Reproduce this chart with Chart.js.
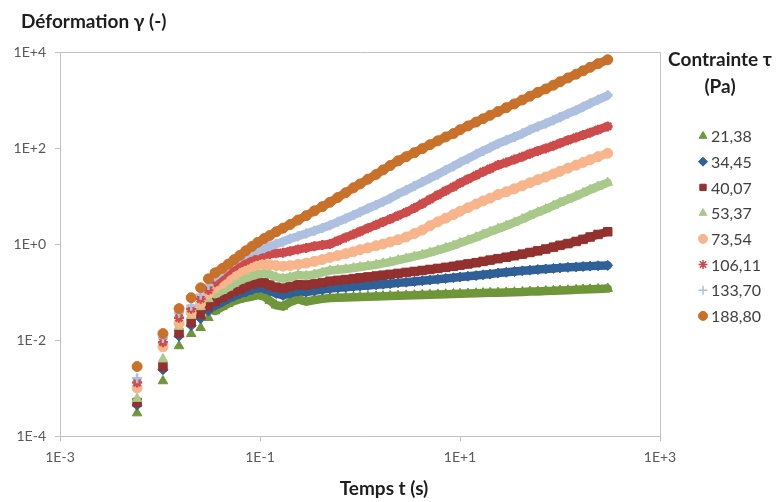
<!DOCTYPE html>
<html lang="fr">
<head>
<meta charset="UTF-8">
<title>Déformation en fonction du temps</title>
<script src="https://cdn.jsdelivr.net/npm/chart.js"></script>
<style>
  html, body { margin: 0; padding: 0; background: #fff; }
  #wrap { position: relative; width: 778px; height: 502px; }
</style>
</head>
<body>
<div id="wrap"><canvas id="chart"></canvas></div>
<script>
// temps t (s)
const temps = [0.0059, 0.0107, 0.0155, 0.0205, 0.0255, 0.0305, 0.0355, 0.042, 0.048, 0.055,
  0.063, 0.072, 0.083, 0.095, 0.11, 0.125, 0.145, 0.17, 0.2, 0.24,
  0.29, 0.35, 0.42, 0.5, 0.6, 0.72, 0.86, 1, 1.2, 1.45,
  1.7, 2, 2.4, 2.9, 3.5, 4.2, 5, 6, 7.2, 8.6,
  10, 12, 14.5, 17, 20, 24, 29, 35, 42, 50,
  60, 72, 86, 100, 120, 145, 170, 200, 240, 300];

// contrainte tau (Pa)
const contraintes = ['21,38', '34,45', '40,07', '53,37', '73,54', '106,11', '133,70', '188,80'];

// deformation gamma (-) pour chaque contrainte
const def2138 = [0.0003, 0.0014, 0.0075, 0.0135, 0.018, 0.029, 0.040, 0.049, 0.057, 0.065,
  0.071, 0.076, 0.080, 0.087, 0.080, 0.066, 0.053, 0.050, 0.062, 0.071,
  0.063, 0.068, 0.072, 0.075, 0.076, 0.077, 0.078, 0.079, 0.080, 0.081,
  0.082, 0.083, 0.084, 0.085, 0.086, 0.087, 0.088, 0.089, 0.090, 0.091,
  0.092, 0.093, 0.094, 0.095, 0.096, 0.097, 0.098, 0.099, 0.100, 0.102,
  0.103, 0.105, 0.106, 0.108, 0.109, 0.111, 0.113, 0.114, 0.116, 0.118];
const def3445 = [0.00044, 0.0024, 0.012, 0.020, 0.028, 0.040, 0.052, 0.062, 0.072, 0.082,
  0.092, 0.100, 0.112, 0.122, 0.118, 0.106, 0.093, 0.085, 0.094, 0.104,
  0.100, 0.106, 0.112, 0.118, 0.122, 0.126, 0.130, 0.133, 0.137, 0.141,
  0.145, 0.149, 0.155, 0.160, 0.166, 0.172, 0.178, 0.184, 0.191, 0.198,
  0.205, 0.212, 0.220, 0.228, 0.236, 0.248, 0.258, 0.267, 0.276, 0.285,
  0.294, 0.302, 0.310, 0.318, 0.326, 0.333, 0.340, 0.346, 0.352, 0.358];
const def4007 = [0.0005, 0.0028, 0.014, 0.023, 0.034, 0.050, 0.064, 0.077, 0.090, 0.103,
  0.115, 0.130, 0.145, 0.156, 0.155, 0.140, 0.126, 0.120, 0.130, 0.142,
  0.140, 0.148, 0.157, 0.168, 0.175, 0.182, 0.190, 0.197, 0.206, 0.215,
  0.224, 0.233, 0.244, 0.256, 0.268, 0.281, 0.295, 0.310, 0.326, 0.343,
  0.362, 0.384, 0.408, 0.434, 0.462, 0.495, 0.530, 0.570, 0.615, 0.665,
  0.720, 0.785, 0.860, 0.940, 1.02, 1.13, 1.25, 1.40, 1.58, 1.80];
const def5337 = [0.0006, 0.004, 0.019, 0.032, 0.049, 0.072, 0.090, 0.108, 0.125, 0.150,
  0.175, 0.195, 0.215, 0.235, 0.245, 0.232, 0.205, 0.190, 0.203, 0.225,
  0.218, 0.232, 0.255, 0.28, 0.29, 0.30, 0.316, 0.331, 0.35, 0.37,
  0.395, 0.42, 0.46, 0.50, 0.55, 0.60, 0.66, 0.74, 0.83, 0.93,
  1.05, 1.20, 1.38, 1.58, 1.80, 2.07, 2.40, 2.82, 3.30, 3.90,
  4.60, 5.35, 6.30, 7.25, 8.50, 10.0, 11.6, 13.5, 15.8, 19.0];
const def7354 = [0.001, 0.0072, 0.022, 0.037, 0.057, 0.090, 0.120, 0.150, 0.185, 0.225,
  0.265, 0.300, 0.340, 0.365, 0.380, 0.370, 0.355, 0.345, 0.355, 0.375,
  0.400, 0.435, 0.475, 0.525, 0.575, 0.63, 0.69, 0.76, 0.83, 0.92,
  1.00, 1.10, 1.23, 1.40, 1.65, 1.95, 2.40, 2.90, 3.45, 4.1,
  4.8, 5.7, 6.8, 7.9, 9.0, 10.7, 12.2, 14.1, 16.3, 18.9,
  21.9, 24.9, 28.8, 32.7, 38, 44, 50, 57, 66, 77.6];
const def10611 = [0.0013, 0.009, 0.029, 0.045, 0.072, 0.11, 0.16, 0.22, 0.28, 0.34,
  0.40, 0.45, 0.52, 0.57, 0.60, 0.62, 0.64, 0.66, 0.71, 0.77,
  0.83, 0.90, 0.95, 1.00, 1.17, 1.37, 1.59, 1.82, 2.14, 2.51,
  2.88, 3.3, 3.9, 4.6, 5.6, 6.9, 8.5, 10.5, 12.9, 15.5,
  18.6, 22.4, 27, 32, 37, 44, 50, 57.5, 66, 76,
  87, 98, 112, 126, 145, 166, 186, 209, 240, 282];
const def13370 = [0.0016, 0.011, 0.037, 0.052, 0.088, 0.14, 0.21, 0.28, 0.36, 0.44,
  0.53, 0.61, 0.70, 0.74, 0.82, 0.90, 1.00, 1.12, 1.28, 1.45,
  1.65, 1.88, 2.15, 2.45, 2.9, 3.4, 4.0, 4.6, 5.5, 6.5,
  7.6, 8.9, 11.0, 13.2, 16.2, 19.5, 23.4, 28.2, 34.7, 41.7,
  50, 60, 74, 87, 102, 123, 145, 170, 200, 240,
  282, 324, 380, 437, 520, 610, 720, 850, 1010, 1250];
const def18880 = [0.0028, 0.0136, 0.045, 0.076, 0.122, 0.188, 0.25, 0.31, 0.38, 0.47,
  0.58, 0.72, 0.89, 1.08, 1.30, 1.50, 1.80, 2.14, 2.55, 3.16,
  3.9, 4.9, 6.0, 7.4, 9.3, 11.7, 14.8, 17.8, 22.4, 28.2,
  35, 43, 54, 66, 80, 97, 117, 141, 170, 200,
  240, 288, 347, 407, 480, 575, 690, 830, 1000, 1200,
  1440, 1700, 2040, 2400, 2880, 3450, 4050, 4800, 5700, 6900];

const series = [def2138, def3445, def4007, def5337, def7354, def10611, def13370, def18880];

const yTicks = [1e-4, 1e-2, 1, 1e2, 1e4];
const yTickLabels = ['1E-4', '1E-2', '1E+0', '1E+2', '1E+4'];
const xTicks = [1e-3, 1e-1, 1e1, 1e3];
const xTickLabels = ['1E-3', '1E-1', '1E+1', '1E+3'];

// marker look, one per series
const colors = ['#6F9639', '#2F6098', '#93312F', '#A8C98A', '#F8B48A', '#CD4B4B', '#AEC0E0', '#C8712A'];
const shapes = ['triangle', 'rectRot', 'rect', 'triangle', 'circle', 'star', 'cross', 'circle'];
const sizes = [5.5, 5, 6, 5.5, 5, 5, 5, 5];

const FONT = 'Lato, "Open Sans", sans-serif';

// the sampled points sit so close together past ~0.03 s that they merge into a band
const datasets = series.map((vals, i) => ({
    label: contraintes[i],
    data: temps.map((t, k) => ({ x: t, y: vals[k] })),
    pointStyle: shapes[i],
    pointRadius: sizes[i],
    pointBackgroundColor: colors[i],
    pointBorderColor: colors[i],
    pointBorderWidth: (shapes[i] === 'star' || shapes[i] === 'cross') ? 2.5 : 1,
    showLine: true,
    borderColor: colors[i],
    borderWidth: 8.5,
    borderCapStyle: 'round',
    segment: { borderColor: c => c.p0DataIndex < 6 ? 'rgba(0,0,0,0)' : undefined },
    order: series.length - 1 - i
}));

const decor = {
    id: 'decor',
    afterDraw(chart) {
        const { ctx, chartArea: a } = chart;
        ctx.save();
        // plot frame (top and right)
        ctx.strokeStyle = '#c0c0c0';
        ctx.lineWidth = 1;
        ctx.beginPath();
        ctx.moveTo(a.left, Math.round(a.top) + 0.5);
        ctx.lineTo(Math.round(a.right) + 0.5, Math.round(a.top) + 0.5);
        ctx.lineTo(Math.round(a.right) + 0.5, a.bottom);
        ctx.stroke();

        // axis titles
        ctx.fillStyle = '#1e1e1e';
        ctx.font = 'bold 19px ' + FONT;
        ctx.textBaseline = 'middle';
        ctx.textAlign = 'left';
        ctx.fillText('Déformation γ (-)', 21, 22);
        ctx.textAlign = 'center';
        ctx.fillText('Temps t (s)', 384, 489);

        // legend
        ctx.fillText('Contrainte τ', 720, 60);
        ctx.fillText('(Pa)', 720, 87);
        ctx.font = '16px ' + FONT;
        ctx.textAlign = 'left';
        chart.data.datasets.forEach((ds, i) => {
            const y = 136 + i * 25.7;
            ctx.fillStyle = colors[i];
            ctx.strokeStyle = colors[i];
            const line = shapes[i] === 'star' || shapes[i] === 'cross';
            ctx.lineWidth = line ? 1.5 : 1;
            Chart.helpers.drawPoint(ctx, { pointStyle: shapes[i], radius: 4.5, borderWidth: ctx.lineWidth, rotation: 0 }, 703, y);
            ctx.fillStyle = '#404040';
            ctx.fillText(ds.label, 711, y + 1);
        });
        ctx.restore();
    }
};

const tickFont = { family: FONT, size: 14 };

new Chart(document.getElementById('chart'), {
    type: 'scatter',
    data: { datasets: datasets },
    options: {
        responsive: true,
        maintainAspectRatio: false,
        animation: false,
        layout: { padding: { top: 52, right: 118, bottom: 0, left: 0 } },
        plugins: {
            legend: { display: false },
            tooltip: { enabled: false }
        },
        scales: {
            x: {
                type: 'logarithmic',
                min: 1e-3,
                max: 1e3,
                afterBuildTicks: (scale) => { scale.ticks = xTicks.map(v => ({ value: v })); },
                afterFit: (scale) => { scale.height = 66; },
                ticks: {
                    autoSkip: false,
                    maxRotation: 0,
                    padding: 8,
                    color: '#595959',
                    font: tickFont,
                    callback: (v, i) => xTickLabels[i]
                },
                grid: { drawOnChartArea: false, tickLength: 5, color: '#c0c0c0' },
                border: { color: '#c0c0c0' }
            },
            y: {
                type: 'logarithmic',
                min: 1e-4,
                max: 1e4,
                afterBuildTicks: (scale) => { scale.ticks = yTicks.map(v => ({ value: v })); },
                afterFit: (scale) => { scale.width = 60; },
                ticks: {
                    autoSkip: false,
                    padding: 9,
                    color: '#595959',
                    font: tickFont,
                    callback: (v, i) => yTickLabels[i]
                },
                grid: { drawOnChartArea: false, tickLength: 5, color: '#c0c0c0' },
                border: { color: '#c0c0c0' }
            }
        }
    },
    plugins: [decor]
});
</script>
</body>
</html>
